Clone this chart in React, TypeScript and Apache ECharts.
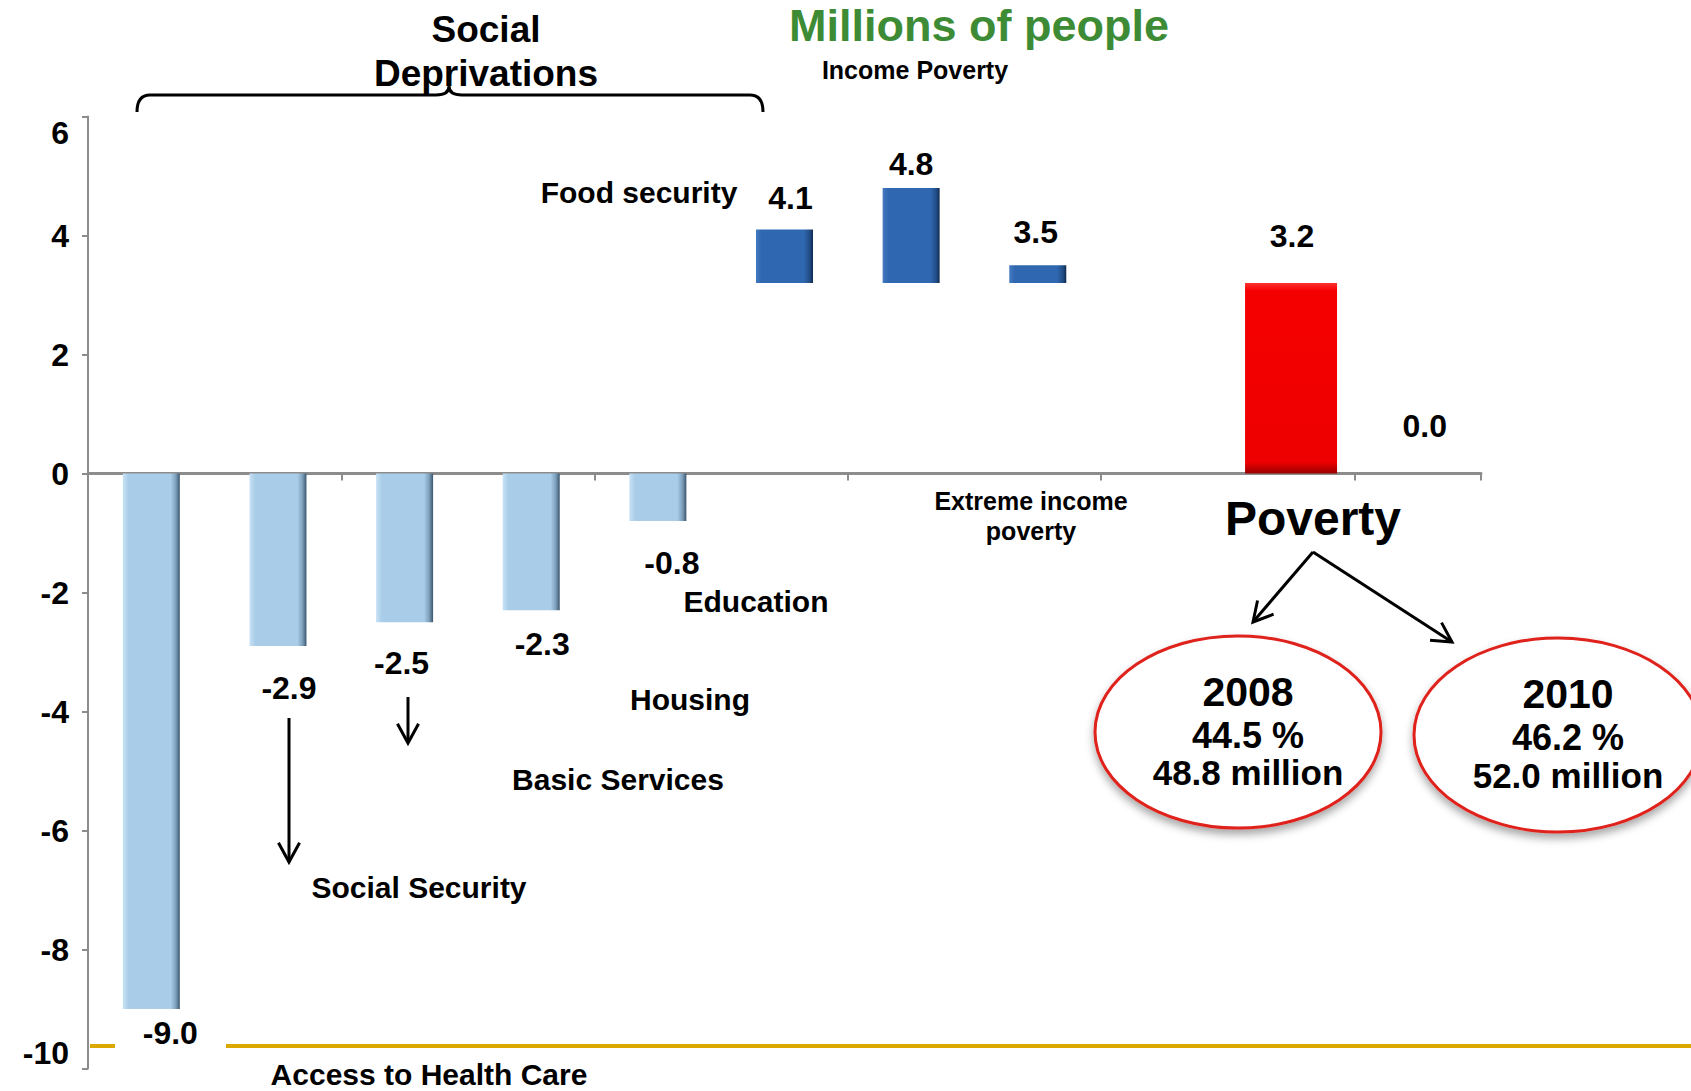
import React, { useEffect, useRef } from 'react';
import * as echarts from 'echarts';

// ---------- data ----------
const categories = [
  'Access to Health Care',
  'Social Security',
  'Basic Services',
  'Housing',
  'Education',
  'Food security',
  'Income Poverty',
  'Extreme income poverty',
  '',
  'Poverty',
  '',
];
const deprivationValues = [-9.0, -2.9, -2.5, -2.3, -0.8]; // slots 0-4
const incomeValues = [4.1, 4.8, 3.5]; // slots 5-7
const incomeFloor = [3.2, 3.2, 3.2]; // floating bars start here
const povertyValues = [3.2, 0.0]; // slots 9-10
const yMin = -10;
const yMax = 6;
const yStep = 2;
const circleYears = ['2008', '2010'];
const circlePercents = ['44.5 %', '46.2 %'];
const circleMillions = ['48.8 million', '52.0 million'];

// ---------- styling ----------
const FONT = "'Liberation Sans', Arial, sans-serif";
// per-slot label nudge: [dx, distance]
const labelNudge: Record<number, [number, number]> = {
  0: [19, 8],
  1: [11, 26],
  2: [-3, 25],
  3: [11, 18],
  4: [14, 26],
  5: [6, 16],
  6: [0, 8],
  7: [-2, 17],
  9: [1, 31],
  10: [7, 32],
};

const lightBlue = new echarts.graphic.LinearGradient(0, 0, 1, 0, [
  { offset: 0, color: '#c9e2f5' },
  { offset: 0.1, color: '#a9cde9' },
  { offset: 0.84, color: '#a9cde9' },
  { offset: 0.93, color: '#7d9fba' },
  { offset: 1, color: '#3b566d' },
]);
const darkBlue = new echarts.graphic.LinearGradient(0, 0, 1, 0, [
  { offset: 0, color: '#4479c0' },
  { offset: 0.1, color: '#2f67b0' },
  { offset: 0.84, color: '#2f67b0' },
  { offset: 0.94, color: '#224d86' },
  { offset: 1, color: '#0f2a4e' },
]);
const red = new echarts.graphic.LinearGradient(0, 0, 0, 1, [
  { offset: 0, color: '#ff3030' },
  { offset: 0.04, color: '#f50000' },
  { offset: 0.94, color: '#ee0000' },
  { offset: 1, color: '#990000' },
]);

const bracePath =
  'M137 112 Q137 95 150 95 L436 95 Q449 95 449 86 Q449 95 462 95 L750 95 Q763 95 763 112';
echarts.graphic.registerShape('brace', echarts.graphic.extendPath(bracePath, {}) as any);

function text(t: string, x: number, y: number, size: number, color = '#000') {
  return {
    type: 'text',
    x,
    y,
    z: 100,
    style: {
      text: t,
      fill: color,
      fontSize: size,
      fontWeight: 'bold',
      fontFamily: FONT,
      textAlign: 'center',
      textVerticalAlign: 'middle',
    },
  };
}

function arrow(x1: number, y1: number, x2: number, y2: number) {
  const ang = Math.atan2(y2 - y1, x2 - x1);
  const L = 22;
  const a = 0.5;
  return [
    { type: 'line', z: 100, shape: { x1, y1, x2, y2 }, style: { stroke: '#000', lineWidth: 3 } },
    {
      type: 'polyline',
      z: 100,
      shape: {
        points: [
          [x2 - L * Math.cos(ang - a), y2 - L * Math.sin(ang - a)],
          [x2, y2],
          [x2 - L * Math.cos(ang + a), y2 - L * Math.sin(ang + a)],
        ],
      },
      style: { stroke: '#000', lineWidth: 3, fill: 'none' },
    },
  ];
}

function labelFor(i: number, pos: 'top' | 'bottom', txt: string) {
  const n = labelNudge[i] || [0, 10];
  return {
    show: true,
    position: pos,
    distance: n[1],
    offset: [n[0], 0],
    formatter: txt,
    fontSize: 32,
    fontWeight: 'bold',
    fontFamily: FONT,
    color: '#000',
  };
}

export default function App() {
  const ref = useRef<HTMLDivElement>(null);
  useEffect(() => {
    if (!ref.current) return;
    const chart = echarts.init(ref.current, undefined, { renderer: 'svg' });

    const negData = categories.map((_, i) =>
      i < deprivationValues.length
        ? { value: deprivationValues[i], label: labelFor(i, 'bottom', deprivationValues[i].toFixed(1)) }
        : '-'
    );
    const baseData = categories.map((_, i) =>
      i >= 5 && i <= 7 ? incomeFloor[i - 5] : '-'
    );
    const topData = categories.map((_, i) =>
      i >= 5 && i <= 7
        ? {
            value: +(incomeValues[i - 5] - incomeFloor[i - 5]).toFixed(2),
            label: labelFor(i, 'top', incomeValues[i - 5].toFixed(1)),
          }
        : '-'
    );
    const povData = categories.map((_, i) =>
      i >= 9 ? { value: povertyValues[i - 9], label: labelFor(i, 'top', povertyValues[i - 9].toFixed(1)) } : '-'
    );

    const graphics: any[] = [
      text('Millions of people', 979, 25, 45, '#3d8c35'),
      text('Social', 486, 29, 37),
      text('Deprivations', 486, 73, 37),
      { type: 'brace', x: 0, y: 0, z: 100, style: { stroke: '#000', lineWidth: 3, fill: 'none' } },
      text(categories[6], 915, 70, 25),
      text(categories[5], 639, 192, 30),
      text('Extreme income', 1031, 501, 25),
      text('poverty', 1031, 531, 25),
      text(categories[4], 756, 601, 30),
      text(categories[3], 690, 699, 30),
      text(categories[2], 618, 779, 30),
      text(categories[1], 419, 887, 30),
      text(categories[0], 429, 1074, 30),
      text(categories[9], 1313, 518, 48),
      ...arrow(289, 718, 289, 862),
      ...arrow(408, 697, 408, 743),
      ...arrow(1313, 552, 1253, 622),
      ...arrow(1313, 552, 1452, 642),
      { type: 'line', z: 90, shape: { x1: 90, y1: 1046, x2: 115, y2: 1046 }, style: { stroke: '#daa800', lineWidth: 4 } },
      { type: 'line', z: 90, shape: { x1: 226, y1: 1046, x2: 1691, y2: 1046 }, style: { stroke: '#daa800', lineWidth: 4 } },
      {
        type: 'ellipse',
        z: 95,
        shape: { cx: 1238, cy: 732, rx: 143, ry: 96 },
        style: { fill: '#fff', stroke: '#e0201a', lineWidth: 3, shadowColor: 'rgba(0,0,0,0.35)', shadowBlur: 8, shadowOffsetY: 5 },
      },
      {
        type: 'ellipse',
        z: 95,
        shape: { cx: 1558, cy: 735, rx: 144, ry: 97 },
        style: { fill: '#fff', stroke: '#e0201a', lineWidth: 3, shadowColor: 'rgba(0,0,0,0.35)', shadowBlur: 8, shadowOffsetY: 5 },
      },
      text(circleYears[0], 1248, 692, 41),
      text(circlePercents[0], 1248, 735, 36),
      text(circleMillions[0], 1248, 772, 35),
      text(circleYears[1], 1568, 694, 41),
      text(circlePercents[1], 1568, 737, 36),
      text(circleMillions[1], 1568, 775, 35),
    ];

    chart.setOption({
      animation: false,
      backgroundColor: '#fff',
      grid: { left: 88, right: 210, top: 116.5, bottom: 22.5, containLabel: false },
      xAxis: [
        {
          type: 'category',
          data: categories,
          axisLine: { onZero: true, lineStyle: { color: '#8c8c8c', width: 3 } },
          axisTick: { show: true, length: 7, lineStyle: { color: '#8c8c8c', width: 2 } },
          axisLabel: { show: false },
          splitLine: { show: false },
        },
        { type: 'category', data: categories, show: false },
      ],
      yAxis: {
        type: 'value',
        min: yMin,
        max: yMax,
        interval: yStep,
        axisLine: { show: true, lineStyle: { color: '#8c8c8c', width: 2 } },
        axisTick: { show: true, length: 6, lineStyle: { color: '#8c8c8c', width: 2 } },
        splitLine: { show: false },
        axisLabel: {
          fontSize: 32,
          fontWeight: 'bold',
          fontFamily: FONT,
          color: '#000',
          margin: 19,
          verticalAlignMinLabel: 'bottom',
          verticalAlignMaxLabel: 'top',
        },
      },
      series: [
        {
          name: 'Social deprivations',
          type: 'bar',
          stack: 'a',
          barWidth: 57,
          xAxisIndex: 0,
          itemStyle: { color: lightBlue },
          data: negData,
        },
        {
          name: 'floor',
          type: 'bar',
          stack: 'a',
          xAxisIndex: 0,
          silent: true,
          itemStyle: { color: 'rgba(0,0,0,0)' },
          label: { show: false },
          data: baseData,
        },
        {
          name: 'Income poverty',
          type: 'bar',
          stack: 'a',
          xAxisIndex: 0,
          itemStyle: { color: darkBlue },
          data: topData,
        },
        {
          name: 'Poverty',
          type: 'bar',
          xAxisIndex: 1,
          barWidth: 92,
          itemStyle: { color: red },
          data: povData,
        },
      ],
      graphic: graphics,
    });
    return () => chart.dispose();
  }, []);

  return (
    <div
      ref={ref}
      style={{ position: 'absolute', left: 0, top: 0, width: 1691, height: 1091 }}
    />
  );
}
